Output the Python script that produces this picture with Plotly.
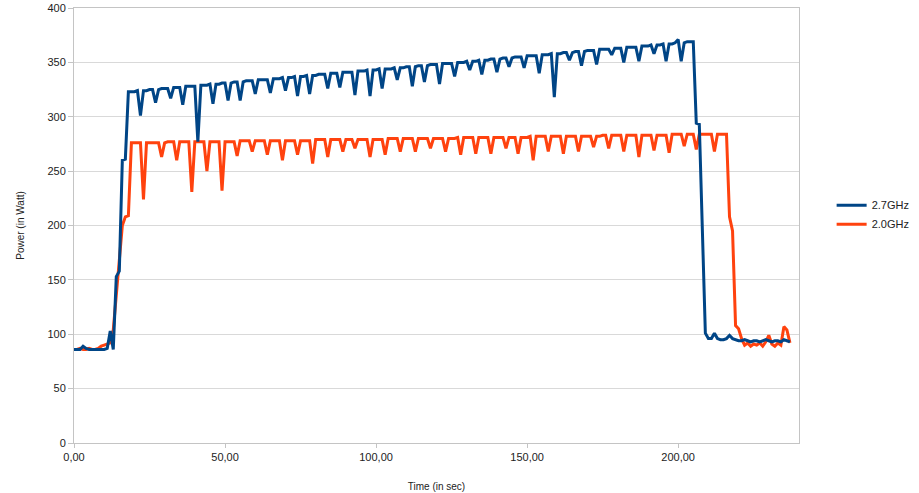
import plotly.graph_objects as go

# sampling grid (1 sample per second)
time_s = list(range(0, 238))

power_27ghz = [
    86, 86, 86, 89, 87, 86, 86, 86, 86, 86,
    86, 87, 103, 86, 153, 158, 260, 261, 323, 323,
    323, 324, 301, 324, 324, 325, 325, 313, 325, 326,
    326, 326, 317, 327, 327, 327, 311, 328, 328, 328,
    328, 277, 329, 329, 329, 330, 312, 330, 330, 331,
    331, 315, 331, 332, 332, 315, 332, 333, 333, 333,
    321, 334, 334, 334, 334, 322, 335, 335, 335, 336,
    324, 336, 336, 337, 319, 337, 337, 338, 321, 338,
    338, 339, 339, 339, 326, 340, 340, 340, 327, 341,
    341, 341, 341, 320, 342, 342, 342, 343, 319, 343,
    343, 344, 326, 344, 344, 344, 345, 334, 345, 345,
    346, 346, 328, 346, 347, 347, 332, 347, 348, 348,
    348, 330, 349, 349, 349, 349, 337, 350, 350, 350,
    351, 343, 351, 351, 352, 339, 352, 352, 353, 353,
    341, 353, 354, 354, 346, 354, 355, 355, 355, 345,
    356, 356, 356, 356, 340, 357, 357, 357, 358, 318,
    358, 358, 359, 359, 352, 359, 360, 360, 347, 360,
    361, 361, 361, 348, 362, 362, 362, 362, 357, 363,
    363, 363, 350, 364, 364, 364, 364, 351, 365, 365,
    365, 366, 358, 366, 366, 367, 351, 367, 367, 368,
    371, 351, 368, 369, 369, 369, 294, 293, 197, 101,
    96, 96, 101, 96, 95, 95, 96, 99, 96, 95,
    94, 94, 95, 94, 93, 94, 94, 93, 94, 95,
    94, 93, 94, 94, 93, 95, 94, 93,
]

power_20ghz = [
    86, 86, 87, 86, 86, 87, 86, 86, 87, 89,
    90, 91, 92, 104, 135, 165, 200, 208, 209, 276,
    276, 276, 276, 224, 276, 276, 276, 276, 276, 263,
    276, 277, 277, 277, 260, 277, 277, 277, 277, 231,
    277, 277, 277, 277, 250, 277, 277, 277, 277, 232,
    277, 277, 277, 277, 264, 278, 278, 278, 278, 268,
    278, 278, 278, 278, 265, 278, 278, 278, 278, 260,
    278, 278, 278, 278, 265, 278, 278, 278, 278, 257,
    279, 279, 279, 279, 263, 279, 279, 279, 279, 268,
    279, 279, 279, 271, 279, 279, 279, 279, 263, 279,
    279, 279, 279, 265, 280, 280, 280, 280, 268, 280,
    280, 280, 280, 268, 280, 280, 280, 280, 271, 280,
    280, 280, 280, 268, 280, 280, 280, 281, 265, 281,
    281, 281, 281, 266, 281, 281, 281, 281, 266, 281,
    281, 281, 281, 271, 281, 281, 281, 266, 281, 281,
    281, 282, 260, 282, 282, 282, 282, 268, 282, 282,
    282, 282, 266, 282, 282, 282, 282, 268, 282, 282,
    282, 282, 272, 282, 282, 283, 283, 271, 283, 283,
    283, 283, 268, 283, 283, 283, 283, 263, 283, 283,
    283, 283, 269, 283, 283, 283, 283, 267, 284, 284,
    284, 284, 273, 284, 284, 284, 270, 284, 284, 284,
    284, 284, 268, 284, 284, 284, 284, 208, 195, 108,
    105, 96, 90, 92, 89, 91, 90, 92, 89, 93,
    99, 91, 89, 92, 90, 107, 104, 92,
]

x_ticks = [0, 50, 100, 150, 200]
y_ticks = [0, 50, 100, 150, 200, 250, 300, 350, 400]

FONT = "Liberation Sans, Arial, sans-serif"

fig = go.Figure()
fig.add_trace(go.Scatter(
    x=time_s, y=power_20ghz, name="2.0GHz", mode="lines",
    line=dict(color="#ff420e", width=3),
))
fig.add_trace(go.Scatter(
    x=time_s, y=power_27ghz, name="2.7GHz", mode="lines",
    line=dict(color="#004586", width=3),
))

fig.update_layout(
    width=919, height=493,
    margin=dict(l=74, r=120, t=8, b=50, autoexpand=False),
    paper_bgcolor="white", plot_bgcolor="white",
    font=dict(family=FONT, size=11, color="#222"),
    separators=", ",
    showlegend=True,
    legend=dict(
        x=1.045, xanchor="left", y=0.525, yanchor="middle",
        traceorder="reversed", font=dict(size=11, color="#222"),
        itemwidth=30, bgcolor="rgba(0,0,0,0)", tracegroupgap=0,
    ),
    hovermode=False,
)

fig.update_xaxes(
    range=[0, 240], tickvals=x_ticks, tickformat=".2f", automargin=False,
    showgrid=False, zeroline=False,
    showline=True, linecolor="#c4c4c4", linewidth=1, mirror=True,
    ticks="outside", ticklen=4, tickcolor="#c4c4c4",
    tickfont=dict(size=11, color="#222"),
    title=dict(text="Time (in sec)", font=dict(size=10, color="#222"), standoff=20),
)
fig.update_yaxes(
    range=[0, 400], tickvals=y_ticks, automargin=False,
    showgrid=True, gridcolor="#d9d9d9", gridwidth=1, zeroline=False,
    showline=True, linecolor="#c4c4c4", linewidth=1, mirror=True,
    ticks="outside", ticklen=5, tickcolor="#c4c4c4",
    tickfont=dict(size=11, color="#222"),
    title=dict(text="Power (in Watt)", font=dict(size=10, color="#222"), standoff=20),
)

fig.write_html(
    "out.html",
    config={"displayModeBar": False, "staticPlot": True},
    post_script="document.body.style.margin='0';document.body.style.overflow='hidden';",
)
